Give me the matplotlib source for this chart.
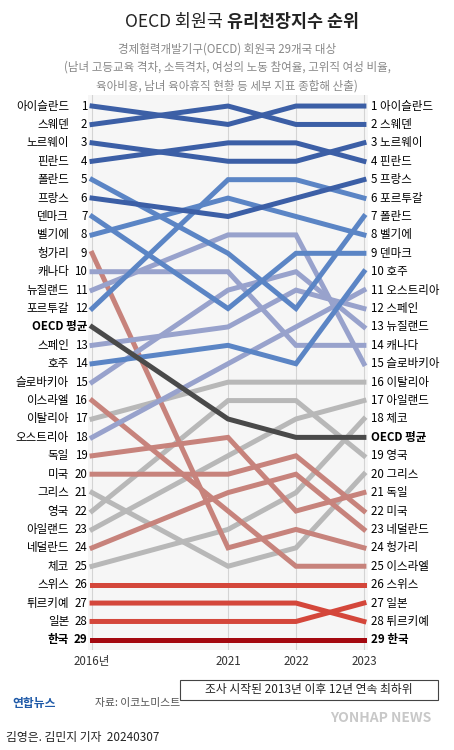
import matplotlib
matplotlib.use("Agg")
import matplotlib.pyplot as plt
from matplotlib.patches import FancyBboxPatch

plt.rcParams['font.family'] = ['Noto Sans CJK KR', 'DejaVu Sans']

years = ["2016년", "2021", "2022", "2023"]
year_pos = [0, 2, 3, 4]
oecd_slot = [13, 18, 19, 19]   # where the OECD average row sits each year

countries = ["아이슬란드", "스웨덴", "노르웨이", "핀란드", "폴란드", "프랑스", "덴마크", "벨기에",
             "헝가리", "캐나다", "뉴질랜드", "포르투갈", "스페인", "호주", "슬로바키아", "이스라엘",
             "이탈리아", "오스트리아", "독일", "미국", "그리스", "영국", "아일랜드", "네덜란드",
             "체코", "스위스", "튀르키예", "일본", "한국"]
ranks = [
    [1, 2, 1, 1], [2, 1, 2, 2], [3, 4, 4, 3], [4, 3, 3, 4],
    [5, 9, 12, 7], [6, 7, 6, 5], [7, 12, 9, 9], [8, 6, 7, 8],
    [9, 24, 23, 24], [10, 10, 14, 14], [11, 8, 8, 15], [12, 5, 5, 6],
    [13, 13, 11, 12], [14, 14, 15, 10], [15, 11, 10, 13], [16, 22, 25, 25],
    [17, 16, 16, 16], [18, 15, 13, 11], [19, 18, 22, 21], [20, 20, 19, 22],
    [21, 25, 24, 20], [22, 17, 17, 19], [23, 19, 18, 17], [24, 21, 20, 23],
    [25, 23, 21, 18], [26, 26, 26, 26], [27, 27, 27, 28], [28, 28, 28, 27],
    [29, 29, 29, 29],
]
groups = ["dark", "dark", "dark", "dark", "blue", "dark", "blue", "blue",
          "pink", "purple", "purple", "blue", "purple", "blue", "purple", "pink",
          "gray", "purple", "pink", "pink", "gray", "gray", "gray", "pink",
          "gray", "red", "red", "red", "korea"]
right_labels = ["아이슬란드", "스웨덴", "노르웨이", "핀란드", "프랑스", "포르투갈", "폴란드", "벨기에",
                "덴마크", "호주", "오스트리아", "스페인", "뉴질랜드", "캐나다", "슬로바키아", "이탈리아",
                "아일랜드", "체코", "영국", "그리스", "독일", "미국", "네덜란드", "헝가리",
                "이스라엘", "스위스", "일본", "튀르키예", "한국"]

colors = {"dark": "#3c5fa6", "blue": "#5b85c5", "purple": "#98a2cc", "gray": "#b8b8b8",
          "pink": "#c7837c", "red": "#d4473b", "korea": "#a3080f", "oecd": "#4a4a4a"}
zorders = {"gray": 2, "pink": 3, "purple": 4, "blue": 5, "dark": 6, "red": 6, "korea": 8, "oecd": 7}


def slot(rank, i):
    return rank if rank < oecd_slot[i] else rank + 1


fig = plt.figure(figsize=(4.54, 7.5), dpi=100)
W, H = 454, 750
ax = fig.add_axes([88 / W, (750 - 650) / H, 280 / W, 555 / H])
ax.set_facecolor("#f6f6f6")
ax.set_xlim(-0.06, 4.06)
ax.set_ylim(30.55, 0.4)
for s in ax.spines.values():
    s.set_visible(False)
ax.set_xticks([])
ax.set_yticks([])
for x in year_pos:
    ax.axvline(x, color="#d4d4d4", lw=0.8, zorder=1)

for name, r, g in zip(countries, ranks, groups):
    ys = [slot(v, i) for i, v in enumerate(r)]
    ax.plot(year_pos, ys, color=colors[g], lw=3.6, zorder=zorders[g], solid_joinstyle="miter")
ax.plot(year_pos, oecd_slot, color=colors["oecd"], lw=3.6, zorder=zorders["oecd"])

# left labels: name column + number column
for name, r in zip(countries, ranks):
    y = slot(r[0], 0)
    fw = "bold" if name == "한국" else "normal"
    ax.text(-0.34, y, name, ha="right", va="center", fontsize=8.3, fontweight=fw, clip_on=False)
    ax.text(-0.07, y, str(r[0]), ha="right", va="center", fontsize=8.3, fontweight=fw, clip_on=False)
ax.text(-0.07, oecd_slot[0], "OECD 평균", ha="right", va="center", fontsize=8.3,
        fontweight="bold", clip_on=False)

# right labels
for i, name in enumerate(right_labels):
    rk = i + 1
    y = slot(rk, 3)
    fw = "bold" if name == "한국" else "normal"
    ax.text(4.1, y, f"{rk} {name}", ha="left", va="center", fontsize=8.3, fontweight=fw, clip_on=False)
ax.text(4.1, oecd_slot[3], "OECD 평균", ha="left", va="center", fontsize=8.3,
        fontweight="bold", clip_on=False)

for x, lab in zip(year_pos, years):
    ax.text(x, 31.2, lab, ha="center", va="center", fontsize=8.3, color="#333333", clip_on=False)

# titles
fig.text(0.5, 1 - 22 / H, "OECD 회원국 ", ha="right", va="center", fontsize=12.5, color="#222222")
fig.text(0.5, 1 - 22 / H, "유리천장지수 순위", ha="left", va="center", fontsize=12.5,
         fontweight="bold", color="#222222")
subtitle = ["경제협력개발기구(OECD) 회원국 29개국 대상",
            "(남녀 고등교육 격차, 소득격차, 여성의 노동 참여율, 고위직 여성 비율,",
            "육아비용, 남녀 육아휴직 현황 등 세부 지표 종합해 산출)"]
for k, line in enumerate(subtitle):
    fig.text(0.5, 1 - (49 + k * 18.5) / H, line, ha="center", va="center", fontsize=8.3, color="#888888")

# note box
fig.patches.append(FancyBboxPatch((180 / W, 1 - 700 / H), 258 / W, 20 / H,
                                  boxstyle="square,pad=0", transform=fig.transFigure,
                                  facecolor="white", edgecolor="#444444", lw=0.8))
fig.text(309 / W, 1 - 690 / H, "조사 시작된 2013년 이후 12년 연속 최하위", ha="center", va="center",
         fontsize=8.5, color="#222222")

fig.text(12 / W, 1 - 703 / H, "연합뉴스", ha="left", va="center", fontsize=8.5,
         fontweight="bold", color="#1f5aa8")
fig.text(95 / W, 1 - 703 / H, "자료: 이코노미스트", ha="left", va="center", fontsize=7.8, color="#555555")
fig.text(330 / W, 1 - 718 / H, "YONHAP NEWS", ha="left", va="center", fontsize=10,
         fontweight="bold", color="#c8c8c8")
fig.text(6 / W, 1 - 737 / H, "김영은. 김민지 기자  20240307", ha="left", va="center", fontsize=8.5,
         color="#222222")

fig.savefig("out.png", dpi=100)
